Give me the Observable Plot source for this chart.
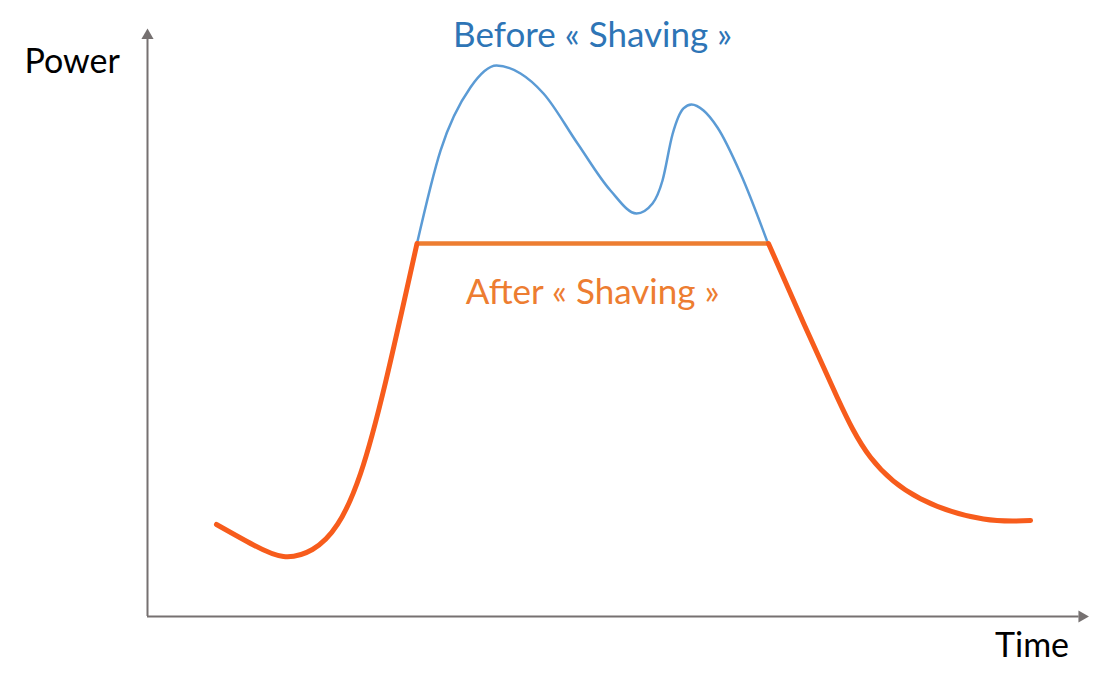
<!DOCTYPE html>
<html>
<head>
<meta charset="utf-8">
<script src="https://cdn.jsdelivr.net/npm/d3@7"></script>
<script src="https://cdn.jsdelivr.net/npm/@observablehq/plot@0.6"></script>
<style>
  html, body { margin: 0; padding: 0; background: #ffffff; }
  #chart svg { display: block; }
</style>
</head>
<body>
<div id="chart"></div>
<script>
// ---- data (abstract units: time 0..100, power 0..100) ----
const beforeTime  = [28.64, 31.14, 34.33, 37.09, 39.64, 42.08, 45.70, 49.20, 51.97, 53.67, 54.73, 55.79, 56.96, 57.81, 59.09, 60.57, 63.02, 65.94];
const beforePower = [63.44, 79.25, 90.02, 93.71, 92.35, 88.95, 80.44, 72.45, 68.54, 70.24, 74.15, 81.97, 86.40, 87.07, 86.05, 83.16, 75.34, 63.44];

const riseTime  = [7.33, 11.26, 14.45, 17.53, 20.19, 22.64, 25.29, 28.64];
const risePower = [15.65, 12.16, 10.20, 11.39, 15.65, 24.32, 39.80, 63.44];

const capTime  = [28.64, 65.99];
const capPower = [63.44, 63.44];

const fallTime  = [65.99, 69.75, 73.29, 76.83, 82.15, 88.84, 93.84];
const fallPower = [63.44, 49.78, 37.30, 27.09, 20.02, 16.58, 16.33];

const axisLabels = ["Power", "Time"];
const seriesLabels = ["Before « Shaving »", "After « Shaving »"];

// ---- build tables ----
const zip = (xs, ys) => xs.map((t, i) => ({time: t, power: ys[i]}));
const before = zip(beforeTime, beforePower);
const rise = zip(riseTime, risePower);
const cap = zip(capTime, capPower);
const fall = zip(fallTime, fallPower);

const axisGray = "#767171";
const font = "Lato, 'Open Sans', sans-serif";

const chart = Plot.plot({
  width: 1102,
  height: 691,
  marginLeft: 147,
  marginRight: 14,
  marginTop: 28,
  marginBottom: 75,
  x: {domain: [0, 100], axis: null},
  y: {domain: [0, 100], axis: null},
  style: {background: "#ffffff", fontFamily: font},
  marks: [
    // axes
    Plot.ruleX([0], {y1: 0, y2: 98.5, stroke: axisGray, strokeWidth: 2}),
    Plot.ruleY([0], {x1: 0, x2: 99, stroke: axisGray, strokeWidth: 2}),
    Plot.dot([{time: 0, power: 98.8}], {x: "time", y: "power", symbol: "triangle", r: 4.5, fill: axisGray, stroke: null}),
    Plot.dot([{time: 99.3, power: 0}], {x: "time", y: "power", symbol: "triangle", r: 4.5, fill: axisGray, stroke: null, rotate: 90}),
    // before curve
    Plot.line(before, {x: "time", y: "power", curve: "monotone-x", stroke: "#5B9BD5", strokeWidth: 2.5}),
    // after curve
    Plot.line(cap, {x: "time", y: "power", stroke: "#ED7D31", strokeWidth: 4.5, strokeLinecap: "butt"}),
    Plot.line(rise, {x: "time", y: "power", curve: "natural", stroke: "#F75C1C", strokeWidth: 5}),
    Plot.line(fall, {x: "time", y: "power", curve: "natural", stroke: "#F75C1C", strokeWidth: 5}),
    // labels
    Plot.text([axisLabels[0]], {x: () => -8.0, y: () => 94.2, text: d => d, fontSize: 34, fill: "#000000", textAnchor: "middle", lineAnchor: "middle"}),
    Plot.text([axisLabels[1]], {x: () => 94.0, y: () => -5.1, text: d => d, fontSize: 34, fill: "#000000", textAnchor: "middle", lineAnchor: "middle"}),
    Plot.text([seriesLabels[0]], {x: () => 47.3, y: () => 98.8, text: d => d, fontSize: 35, fill: "#2E75B6", textAnchor: "middle", lineAnchor: "middle"}),
    Plot.text([seriesLabels[1]], {x: () => 47.3, y: () => 55.1, text: d => d, fontSize: 35, fill: "#ED7D31", textAnchor: "middle", lineAnchor: "middle"})
  ]
});

document.getElementById("chart").appendChild(chart);
</script>
</body>
</html>
